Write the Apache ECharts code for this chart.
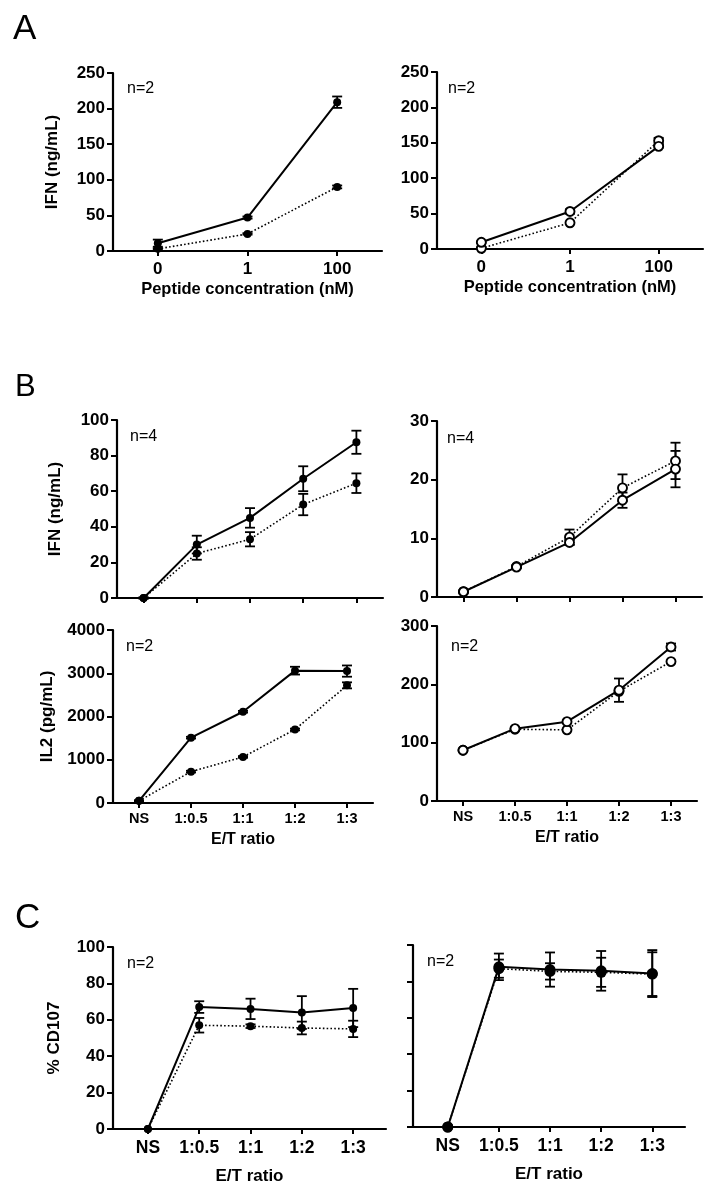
<!DOCTYPE html>
<html>
<head>
<meta charset="utf-8">
<script src="https://cdn.jsdelivr.net/npm/echarts@6/dist/echarts.min.js"></script>
<style>
html,body{margin:0;padding:0;background:#fff;}
#chart{width:710px;height:1192px;}
</style>
</head>
<body>
<div id="chart"></div>
<script>
// ---------------- DATA ----------------
const peptideCats = ['0', '1', '100'];
const etCats = ['NS', '1:0.5', '1:1', '1:2', '1:3'];

const yTicksA = [0, 50, 100, 150, 200, 250];
const yTicksBTL = [0, 20, 40, 60, 80, 100];
const yTicksBTR = [0, 10, 20, 30];
const yTicksBBL = [0, 1000, 2000, 3000, 4000];
const yTicksBBR = [0, 100, 200, 300];
const yTicksC = [0, 20, 40, 60, 80, 100];

// Panel A left (filled circles)
const aL_solid = [11, 47, 209];
const aL_solidErr = [5, 1.5, 8];
const aL_dot = [3, 24, 90];
const aL_dotErr = [1, 1, 2];
// Panel A right (open circles)
const aR_solid = [9.5, 53, 145];
const aR_solidErr = [1, 3, 2];
const aR_dot = [1, 37, 153];
const aR_dotErr = [1, 1, 4];

// Panel B top-left IFN
const bTL_solid = [0, 30, 45, 67, 87.5];
const bTL_solidErr = [0.3, 5, 5.5, 7, 6.5];
const bTL_dot = [0, 25, 33, 52.5, 64.5];
const bTL_dotErr = [0.3, 3.5, 4, 6, 5.5];
// Panel B top-right IFN
const bTR_solid = [0.9, 5.1, 9.3, 16.5, 21.8];
const bTR_solidErr = [0.1, 0.2, 0.4, 1.3, 3.1];
const bTR_dot = [0.9, 5.2, 10.2, 18.6, 23.2];
const bTR_dotErr = [0.1, 0.2, 1.3, 2.3, 3.1];
// Panel B bottom-left IL2
const bBL_solid = [50, 1510, 2110, 3060, 3050];
const bBL_solidErr = [10, 20, 20, 90, 130];
const bBL_dot = [50, 725, 1065, 1700, 2720];
const bBL_dotErr = [10, 20, 20, 20, 70];
// Panel B bottom-right IL2
const bBR_solid = [87, 124, 136, 190, 264];
const bBR_solidErr = [1, 1, 1, 20, 6];
const bBR_dot = [87, 123, 122, 188, 239];
const bBR_dotErr = [1, 1, 1, 1, 1];
// Panel C left CD107
const cL_solid = [0, 67, 66, 64, 66.5];
const cL_solidErr = [0, 3.2, 5.6, 9, 10.5];
const cL_dot = [0, 57, 56.5, 55.5, 55];
const cL_dotErr = [0, 4, 1, 3.5, 4.5];
// Panel C right CD107
const cR_solid = [0, 88, 86.5, 85.8, 84.3];
const cR_solidErr = [0, 7.3, 9.4, 10.9, 12.9];
const cR_dot = [0, 87, 85.5, 85, 84];
const cR_dotErr = [0, 5, 4.5, 8, 12];

// ---------------- LAYOUT / STYLE ----------------
const FONT = '"Liberation Sans", Arial, Helvetica, sans-serif';
const chart = echarts.init(document.getElementById('chart'), null, {renderer: 'canvas'});

const panels = [
  // A left
  {grid: {left: 113, top: 73, width: 269, height: 178}, cats: peptideCats, xmin: -0.5, xmax: 2.5,
   yt: yTicksA, yLabels: true, yName: 'IFN (ng/mL)', yNameGap: 52, xName: 'Peptide concentration (nM)', xNameGap: 30, xNameFont: 16.5,
   xLabels: true, xLabelMargin: 10, xFont: 17,
   solid: aL_solid, solidErr: aL_solidErr, dot: aL_dot, dotErr: aL_dotErr, open: false, msize: 8},
  // A right
  {grid: {left: 437, top: 72, width: 266, height: 177}, cats: peptideCats, xmin: -0.5, xmax: 2.5,
   yt: yTicksA, yLabels: true, yName: '', xName: 'Peptide concentration (nM)', xNameGap: 30, xNameFont: 16.5,
   xLabels: true, xLabelMargin: 10, xFont: 17,
   solid: aR_solid, solidErr: aR_solidErr, dot: aR_dot, dotErr: aR_dotErr, open: true, msize: 9},
  // B top-left
  {grid: {left: 117, top: 420, width: 266, height: 178}, cats: etCats, xmin: -0.5, xmax: 4.5,
   yt: yTicksBTL, yLabels: true, yName: 'IFN (ng/mL)', yNameGap: 53, xName: '',
   xLabels: false,
   solid: bTL_solid, solidErr: bTL_solidErr, dot: bTL_dot, dotErr: bTL_dotErr, open: false, msize: 8},
  // B top-right
  {grid: {left: 437, top: 421, width: 265, height: 176}, cats: etCats, xmin: -0.5, xmax: 4.5,
   yt: yTicksBTR, yLabels: true, yName: '', xName: '',
   xLabels: false,
   solid: bTR_solid, solidErr: bTR_solidErr, dot: bTR_dot, dotErr: bTR_dotErr, open: true, msize: 9},
  // B bottom-left
  {grid: {left: 113, top: 630, width: 260, height: 173}, cats: etCats, xmin: -0.5, xmax: 4.5,
   yt: yTicksBBL, yLabels: true, yName: 'IL2 (pg/mL)', yNameGap: 57, xName: 'E/T ratio', xNameGap: 29, xNameFont: 16,
   xLabels: true, xLabelMargin: 8, xFont: 14.5,
   solid: bBL_solid, solidErr: bBL_solidErr, dot: bBL_dot, dotErr: bBL_dotErr, open: false, msize: 8},
  // B bottom-right
  {grid: {left: 437, top: 626, width: 260, height: 175}, cats: etCats, xmin: -0.5, xmax: 4.5,
   yt: yTicksBBR, yLabels: true, yName: '', xName: 'E/T ratio', xNameGap: 29, xNameFont: 16,
   xLabels: true, xLabelMargin: 8, xFont: 14.5,
   solid: bBR_solid, solidErr: bBR_solidErr, dot: bBR_dot, dotErr: bBR_dotErr, open: true, msize: 9},
  // C left
  {grid: {left: 113, top: 947, width: 273, height: 182}, cats: etCats, xmin: -0.68, xmax: 4.64,
   yt: yTicksC, yLabels: true, yName: '% CD107', yNameGap: 50, xName: 'E/T ratio', xNameGap: 39, xNameFont: 17,
   xLabels: true, xLabelMargin: 10, xFont: 17.5,
   solid: cL_solid, solidErr: cL_solidErr, dot: cL_dot, dotErr: cL_dotErr, open: false, msize: 8},
  // C right
  {grid: {left: 413, top: 945, width: 272, height: 182}, cats: etCats, xmin: -0.68, xmax: 4.64,
   yt: yTicksC, yLabels: false, yName: '', xName: 'E/T ratio', xNameGap: 39, xNameFont: 17,
   xLabels: true, xLabelMargin: 10, xFont: 17.5,
   solid: cR_solid, solidErr: cR_solidErr, dot: cR_dot, dotErr: cR_dotErr, open: false, msize: 11}
];

const grids = [], xAxes = [], yAxes = [], series = [];

function errRender(params, api) {
  const x = api.value(0), y = api.value(1), e = api.value(2);
  if (!e) return null;
  const top = api.coord([x, y + e]);
  const bot = api.coord([x, y - e]);
  const hw = 5;
  const st = {stroke: '#000', lineWidth: 1.8};
  return {
    type: 'group',
    children: [
      {type: 'line', shape: {x1: top[0], y1: top[1], x2: bot[0], y2: bot[1]}, style: st},
      {type: 'line', shape: {x1: top[0] - hw, y1: top[1], x2: top[0] + hw, y2: top[1]}, style: st},
      {type: 'line', shape: {x1: bot[0] - hw, y1: bot[1], x2: bot[0] + hw, y2: bot[1]}, style: st}
    ]
  };
}

panels.forEach((p, i) => {
  grids.push(Object.assign({containLabel: false}, p.grid));
  const idx = p.cats.map((_, k) => k);
  xAxes.push({
    type: 'value', gridIndex: i, min: p.xmin, max: p.xmax,
    axisLine: {show: true, onZero: false, lineStyle: {color: '#000', width: 2.2}},
    axisTick: {show: true, length: 5, lineStyle: {color: '#000', width: 2}, customValues: idx},
    axisLabel: {show: p.xLabels, customValues: idx, margin: p.xLabelMargin || 8,
      formatter: v => p.cats[Math.round(v)] || '',
      color: '#000', fontFamily: FONT, fontWeight: 'bold', fontSize: p.xFont || 15},
    splitLine: {show: false},
    name: p.xName, nameLocation: 'middle', nameGap: p.xNameGap || 30,
    nameTextStyle: {color: '#000', fontFamily: FONT, fontWeight: 'bold', fontSize: p.xNameFont || 16}
  });
  const yt = p.yt;
  yAxes.push({
    type: 'value', gridIndex: i, min: yt[0], max: yt[yt.length - 1], interval: yt[1] - yt[0],
    axisLine: {show: true, onZero: false, lineStyle: {color: '#000', width: 2.2}},
    axisTick: {show: true, length: 6, lineStyle: {color: '#000', width: 2}},
    axisLabel: {show: p.yLabels, margin: 8, color: '#000', fontFamily: FONT, fontWeight: 'bold', fontSize: 17,
      formatter: v => String(v)},
    splitLine: {show: false},
    name: p.yName, nameLocation: 'middle', nameGap: p.yNameGap || 50,
    nameTextStyle: {color: '#000', fontFamily: FONT, fontWeight: 'bold', fontSize: 17}
  });
  const mk = (vals) => vals.map((v, k) => [k, v]);
  const mkErr = (vals, errs) => vals.map((v, k) => [k, v, errs[k]]);
  series.push({
    type: 'custom', xAxisIndex: i, yAxisIndex: i, renderItem: errRender, z: 1,
    data: mkErr(p.dot, p.dotErr), silent: true
  });
  series.push({
    type: 'custom', xAxisIndex: i, yAxisIndex: i, renderItem: errRender, z: 1,
    data: mkErr(p.solid, p.solidErr), silent: true
  });
  const itemStyle = p.open
    ? {color: '#fff', borderColor: '#000', borderWidth: 1.9}
    : {color: '#000', borderColor: '#000', borderWidth: 0};
  series.push({
    type: 'line', xAxisIndex: i, yAxisIndex: i, data: mk(p.dot), z: 2,
    symbol: 'circle', symbolSize: p.msize, showSymbol: true,
    lineStyle: {color: '#000', width: 1.6, type: [1.6, 2.2]},
    itemStyle: itemStyle, animation: false, silent: true
  });
  series.push({
    type: 'line', xAxisIndex: i, yAxisIndex: i, data: mk(p.solid), z: 3,
    symbol: 'circle', symbolSize: p.msize, showSymbol: true,
    lineStyle: {color: '#000', width: 2},
    itemStyle: itemStyle, animation: false, silent: true
  });
});

const txt = (s, x, y, size, weight) => ({
  type: 'text', x: x, y: y,
  style: {text: s, fill: '#000', font: (weight || 'normal') + ' ' + size + 'px ' + FONT,
          textAlign: 'left', textVerticalAlign: 'top', align: 'left', verticalAlign: 'top'}
});

const graphics = [
  txt('A', 13, 12, 35), txt('B', 15, 372, 31), txt('C', 15, 901, 35),
  txt('n=2', 127, 81, 16), txt('n=2', 448, 81, 16),
  txt('n=4', 130, 429, 16), txt('n=4', 447, 431, 16),
  txt('n=2', 126, 639, 16), txt('n=2', 451, 639, 16),
  txt('n=2', 127, 956, 16), txt('n=2', 427, 954, 16)
];

chart.setOption({
  backgroundColor: '#fff',
  animation: false,
  grid: grids, xAxis: xAxes, yAxis: yAxes, series: series,
  graphic: graphics
});
</script>
</body>
</html>
